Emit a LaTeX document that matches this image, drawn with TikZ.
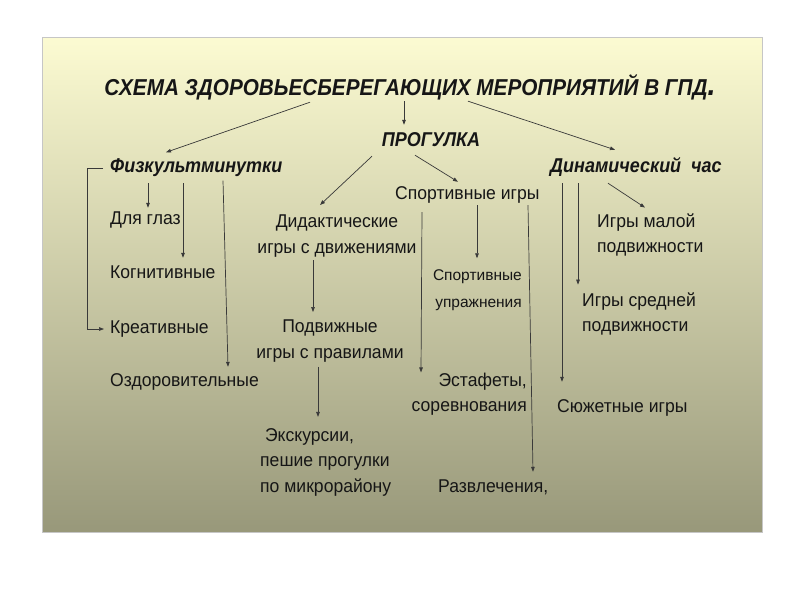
\documentclass[tikz,border=0pt]{standalone}
\usepackage{fontspec}
\setmainfont{Liberation Sans}
\newfontfamily\headfam[FakeStretch=0.9]{Liberation Sans}
\newfontfamily\bodyfam[FakeStretch=0.95]{Liberation Sans}
\usetikzlibrary{arrows.meta}
\definecolor{slidetop}{RGB}{252,251,210}
\definecolor{slidemid}{RGB}{226,224,174}
\definecolor{slidebot}{RGB}{152,152,122}
\definecolor{ink}{RGB}{22,22,22}
\tikzset{
  titlebox/.style={font=\headfam\bfseries\itshape\fontsize{23}{26}\selectfont,text=ink,inner sep=0pt,text height=16pt,text depth=4pt},
  headbox/.style={font=\headfam\bfseries\itshape\fontsize{20}{23}\selectfont,text=ink,inner sep=0pt,text height=14pt,text depth=5pt},
  itembox/.style={font=\bodyfam\fontsize{18.5}{25.5}\selectfont,text=ink,inner sep=0pt,text height=13pt,text depth=4pt},
  multibox/.style={font=\bodyfam\fontsize{18.5}{25.5}\selectfont,text=ink,inner sep=0pt},
  smallbox/.style={font=\fontsize{15.5}{27}\selectfont,text=ink,inner sep=0pt},
  arr/.style={-{Triangle[length=5pt,width=3.6pt]},draw=ink!85,line width=0.7pt}
}
\begin{document}
\begin{tikzpicture}[x=1pt,y=-1pt]
\useasboundingbox(0,0)rectangle(800,600);
\fill[white](0,0)rectangle(800,600);
\shade[top color=slidetop,middle color=slidemid,bottom color=slidebot,draw=gray!45,line width=0.4pt](42,37)rectangle(762,532);
% titles
\node[titlebox](title)at(410,89){СХЕМА ЗДОРОВЬЕСБЕРЕГАЮЩИХ МЕРОПРИЯТИЙ В ГПД{\fontsize{32}{32}\selectfont.}};
\node[headbox](progulka)at(431,142){ПРОГУЛКА};
\node[headbox,anchor=west](fizk)at(110,168){Физкультминутки};
\node[headbox,anchor=west](dinam)at(550,168){Динамический\ \ час};
% left column
\node[itembox,anchor=west](glaz)at(110,220){Для глаз};
\node[itembox,anchor=west](kogn)at(110,274){Когнитивные};
\node[itembox,anchor=west](kreat)at(110,329){Креативные};
\node[itembox,anchor=west](ozdor)at(110,382){Оздоровительные};
% middle
\node[multibox,align=center](didakt)at(337,236){Дидактические\\игры с движениями};
\node[multibox,align=center](podv)at(330,341){Подвижные\\игры с правилами};
\node[multibox,align=left,anchor=west](ekskur)at(260,462){\ Экскурсии,\\пешие прогулки\\по микрорайону};
\node[itembox,anchor=west](sportig)at(395,195){Спортивные игры};
\node[smallbox,align=right,anchor=east](sportupr)at(522,290){Спортивные\\упражнения};
\node[multibox,align=right,anchor=east](estaf)at(527,394){Эстафеты,\\соревнования};
\node[itembox,anchor=west](razvl)at(438,488){Развлечения,};
% right column
\node[multibox,align=left,anchor=west](malo)at(597,235){Игры малой\\подвижности};
\node[multibox,align=left,anchor=west](sred)at(582,314){Игры средней\\подвижности};
\node[itembox,anchor=west](sujet)at(557,408){Сюжетные игры};
% arrows
\draw[arr]([xshift=-100pt,yshift=-3pt]title.south)--([xshift=56pt,yshift=6pt]fizk.north west);
\draw[arr]([xshift=-6pt,yshift=-2pt]title.south)--([xshift=-27pt,yshift=7.5pt]progulka.north);
\draw[arr]([xshift=58pt,yshift=-2pt]title.south)--([xshift=65pt,yshift=8.5pt]dinam.north west);
\draw[arr]([xshift=-59pt,yshift=-4.5pt]progulka.south)--([xshift=-17pt,yshift=9.75pt]didakt.north);
\draw[arr]([xshift=-16pt,yshift=-3.5pt]progulka.south)--([xshift=63pt,yshift=4.5pt]sportig.north west);
\draw[arr]([xshift=38pt,yshift=-5.5pt]fizk.south west)--([xshift=38pt,yshift=3.5pt]glaz.north west);
\draw[arr]([xshift=73pt,yshift=-5.5pt]fizk.south west)--([xshift=73pt,yshift=7.5pt]kogn.north west);
\draw[arr]([xshift=113pt,yshift=-3pt]fizk.south west)--([xshift=118pt,yshift=6.5pt]ozdor.north west);
\draw[arr]([xshift=-7pt]fizk.west)-|([xshift=-23pt]kreat.west)--([xshift=-6pt]kreat.west);
\draw[arr]([xshift=-24pt,yshift=-3pt]didakt.south)--([xshift=-17pt,yshift=7.75pt]podv.north);
\draw[arr]([xshift=-12pt,yshift=-4.75pt]podv.south)--([xshift=58pt,yshift=11pt]ekskur.north west);
\draw[arr]([xshift=82pt,yshift=-1.5pt]sportig.south west)--([xshift=-45pt,yshift=11pt]sportupr.north east);
\draw[arr]([xshift=27pt,yshift=-8.5pt]sportig.south west)--([xshift=-106pt]estaf.north east);
\draw[arr]([xshift=133pt,yshift=-1.5pt]sportig.south west)--([xshift=95pt,yshift=7.5pt]razvl.north west);
\draw[arr]([xshift=58pt,yshift=-5.5pt]dinam.south west)--([xshift=48pt,yshift=5.75pt]malo.north west);
\draw[arr]([xshift=28pt,yshift=-5.5pt]dinam.south west)--([xshift=-4pt,yshift=7.75pt]sred.north west);
\draw[arr]([xshift=12pt,yshift=-5.5pt]dinam.south west)--([xshift=5pt,yshift=17.5pt]sujet.north west);
\end{tikzpicture}
\end{document}
